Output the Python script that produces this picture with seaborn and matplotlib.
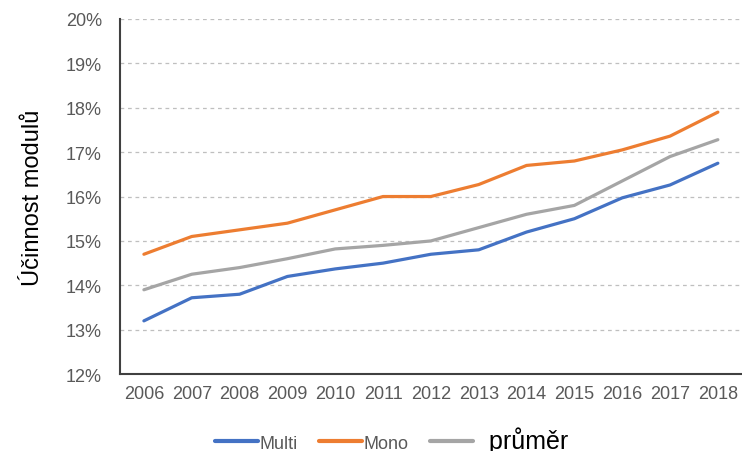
import matplotlib
matplotlib.use("Agg")
import matplotlib.pyplot as plt
from matplotlib.ticker import FixedLocator, PercentFormatter
import pandas as pd
import seaborn as sns

years = [2006, 2007, 2008, 2009, 2010, 2011, 2012, 2013, 2014, 2015, 2016, 2017, 2018]
multi = [13.2, 13.72, 13.8, 14.2, 14.37, 14.5, 14.7, 14.8, 15.2, 15.5, 15.97, 16.26, 16.75]
mono = [14.7, 15.1, 15.25, 15.4, 15.7, 16.0, 16.0, 16.27, 16.7, 16.8, 17.05, 17.36, 17.9]
prumer = [13.9, 14.25, 14.4, 14.6, 14.82, 14.9, 15.0, 15.3, 15.6, 15.8, 16.35, 16.9, 17.28]
series_names = ["Multi", "Mono", "průměr"]
colors = ["#4472C4", "#ED7D31", "#A5A5A5"]

rows = []
for name, vals in zip(series_names, [multi, mono, prumer]):
    for i, (y, v) in enumerate(zip(years, vals)):
        rows.append({"idx": i, "rok": y, "hodnota": v, "série": name})
df = pd.DataFrame(rows)

sns.set_theme(style="white")
plt.rcParams["font.family"] = ["Liberation Sans", "DejaVu Sans"]

fig = plt.figure(figsize=(7.42, 4.52), dpi=100)
ax = fig.add_axes([0.1617, 0.170, 0.838, 0.786])

sns.lineplot(data=df, x="idx", y="hodnota", hue="série", hue_order=series_names,
             palette=colors, linewidth=2.3, ax=ax, legend=True)

ax.set_xlim(-0.5, len(years) - 0.5)
ax.set_ylim(12, 20)
ax.set_yticks(range(12, 21))
ax.yaxis.set_major_formatter(PercentFormatter(decimals=0))
ax.grid(axis="y", color="#BFBFBF", linestyle=(0, (3, 3)), linewidth=0.9)
ax.set_axisbelow(True)

ax.set_xticks(range(len(years)))
ax.set_xticklabels([str(y) for y in years])
ax.xaxis.set_minor_locator(FixedLocator([i - 0.5 for i in range(len(years) + 1)]))
ax.tick_params(axis="x", which="major", length=0, pad=8, labelsize=13, colors="#595959")
ax.tick_params(axis="x", which="minor", length=5, width=1.2, color="#404040", direction="out")
ax.tick_params(axis="y", length=5, width=1.2, color="#404040", direction="out",
               labelsize=13, labelcolor="#595959", pad=8)

for side in ["top", "right"]:
    ax.spines[side].set_visible(False)
for side in ["left", "bottom"]:
    ax.spines[side].set_color("#404040")
    ax.spines[side].set_linewidth(1.5)

ax.set_xlabel("")
ax.set_ylabel("Účinnost modulů", fontsize=17, labelpad=16, color="black")

leg = ax.legend(loc="center", bbox_to_anchor=(0.4365, -0.183), ncol=3, frameon=False,
                handlelength=2.4, handletextpad=0.1, columnspacing=1.15, fontsize=13)
for line in leg.get_lines():
    line.set_linewidth(3)
for txt in leg.get_texts():
    txt.set_color("#595959")
    if txt.get_text() == "průměr":
        txt.set_fontsize(18)
        txt.set_color("black")
        txt.set_text("  průměr")

fig.savefig("out.png", dpi=100)
